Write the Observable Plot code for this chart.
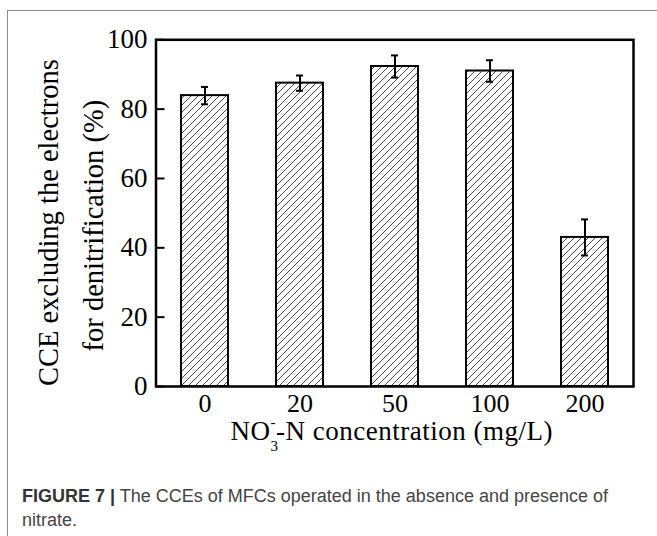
<!DOCTYPE html>
<html>
<head>
<meta charset="utf-8">
<script src="https://cdn.jsdelivr.net/npm/d3@7"></script>
<script src="https://cdn.jsdelivr.net/npm/@observablehq/plot@0.6"></script>
<style>
  html, body { margin: 0; padding: 0; background: #fff; width: 657px; height: 536px; overflow: hidden; }
  #border { position: absolute; left: 7px; top: 10px; width: 720px; height: 620px; border: 1px solid #8a8a8a; box-sizing: border-box; }
  #chart { position: absolute; left: 0; top: 0; }
  #caption { position: absolute; left: 22px; top: 484px; font-family: "Liberation Sans", Arial, sans-serif; font-size: 18px; line-height: 24px; color: #444; white-space: nowrap; }
  #caption b { color: #333; }
</style>
</head>
<body>
<div id="border"></div>
<div id="chart"></div>
<div id="caption"><b>FIGURE 7 |</b> The CCEs of MFCs operated in the absence and presence of<br>nitrate.</div>
<script>
const categories = ["0", "20", "50", "100", "200"];
const cceValues = [83.9, 87.5, 92.3, 91.0, 43.0];
const cceErrors = [2.5, 2.2, 3.2, 3.1, 5.2];
const yTicks = [0, 20, 40, 60, 80, 100];
const yLabelLine1 = "CCE excluding the electrons";
const yLabelLine2 = "for denitrification (%)";
const xLabel = "NO3-N concentration (mg/L)";

const data = categories.map((c, i) => ({
  cat: c, value: cceValues[i], lo: cceValues[i] - cceErrors[i], hi: cceValues[i] + cceErrors[i]
}));

const serif = "'Liberation Serif', 'Times New Roman', serif";

const chart = Plot.plot({
  width: 657,
  height: 470,
  marginLeft: 155.5,
  marginRight: 24,
  marginTop: 39.3,
  marginBottom: 84,
  style: { fontFamily: serif, fontSize: "26px", color: "#000", background: "transparent", overflow: "visible" },
  x: { domain: categories, paddingInner: 0.504, paddingOuter: 0.244, label: null },
  y: { domain: [0, 100], label: null },
  marks: [
    Plot.barY(data, { x: "cat", y: "value", fill: "url(#hatch)", stroke: "#000", strokeWidth: 2 }),
    Plot.ruleX(data, { x: "cat", y1: "lo", y2: "hi", stroke: "#000", strokeWidth: 2 }),
    Plot.tickY(data, { x: "cat", y: "lo", stroke: "#000", strokeWidth: 2, insetLeft: 20, insetRight: 20 }),
    Plot.tickY(data, { x: "cat", y: "hi", stroke: "#000", strokeWidth: 2, insetLeft: 20, insetRight: 20 }),
    Plot.frame({ stroke: "#000", strokeWidth: 2.5 }),
    Plot.axisY({ ticks: yTicks, tickSize: -9, tickPadding: 17.5, strokeWidth: 2, fontSize: 27, label: null }),
    Plot.axisX({ tickSize: 0, tickPadding: 7.5, fontSize: 26, label: null }),
    Plot.text([yLabelLine1], { frameAnchor: "left", text: d => d, rotate: -90, textAnchor: "middle", lineAnchor: "bottom", dx: -98.5, dy: 9.5, fontSize: 28.5 }),
    Plot.text([yLabelLine2], { frameAnchor: "left", text: d => d, rotate: -90, textAnchor: "middle", lineAnchor: "bottom", dx: -53.5, dy: 12.5, fontSize: 28.5 }),
    Plot.text([xLabel], { frameAnchor: "bottom", text: d => d, textAnchor: "middle", lineAnchor: "bottom", dy: 53, dx: -3, fontSize: 27, className: "xtitle" })
  ]
});

// hatch pattern definition
const ns = "http://www.w3.org/2000/svg";
const svg = chart.tagName.toLowerCase() === "svg" ? chart : chart.querySelector("svg");
const defs = document.createElementNS(ns, "defs");
defs.innerHTML = `<pattern id="hatch" patternUnits="userSpaceOnUse" width="7" height="7">
  <rect width="7" height="7" fill="#fff"/>
  <path d="M-1,8 L8,-1 M-1,1 L1,-1 M6,8 L8,6" stroke="#333" stroke-width="0.9"/>
</pattern>`;
svg.insertBefore(defs, svg.firstChild);

// subscript / superscript in x title
const xt = svg.querySelector(".xtitle text");
if (xt) {
  xt.textContent = "";
  xt.setAttribute("letter-spacing", "0.5");
  const mk = (txt, attrs) => {
    const t = document.createElementNS(ns, "tspan");
    for (const k in attrs) t.setAttribute(k, attrs[k]);
    t.textContent = txt;
    xt.appendChild(t);
  };
  mk("NO", {});
  mk("3", { "font-size": "15", dy: "11" });
  mk("-", { "font-size": "15", dx: "-8", dy: "-24" });
  mk("-N concentration (mg/L)", { dy: "13" });
}

document.getElementById("chart").appendChild(chart);
</script>
</body>
</html>
